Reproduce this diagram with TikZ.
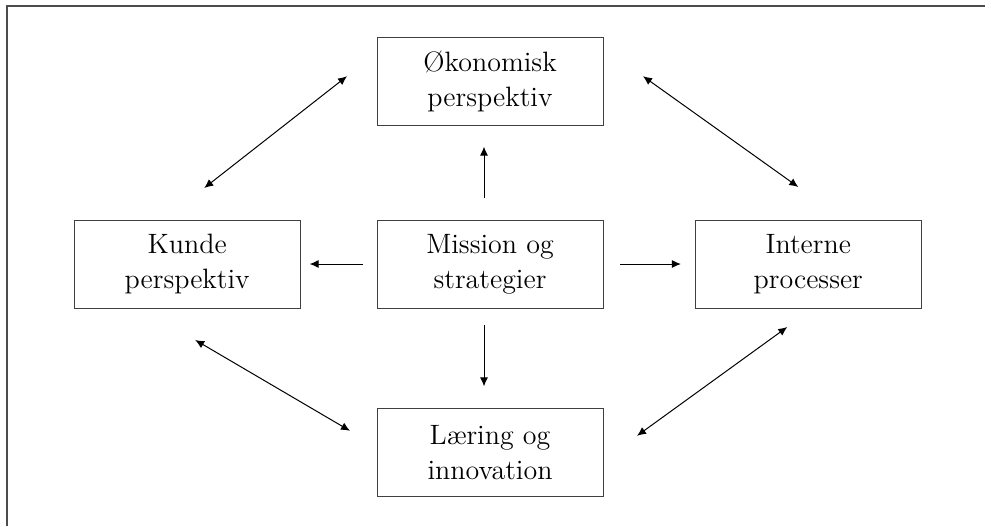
\documentclass[tikz,border=0pt]{standalone}
\usetikzlibrary{positioning, arrows.meta}

\begin{document}
\begin{tikzpicture}[x=0.5pt, y=-0.5pt, >={Latex[length=4.5pt,width=4pt]},
        box/.style = {draw=black!75, rectangle, minimum width=113pt, minimum height=44pt,
                      inner sep=0pt, align=center, font=\fontsize{14}{17.5}\selectfont},
        link/.style = {->, line width=0.5pt},
        both/.style = {<->, line width=0.5pt},
        ]
        \useasboundingbox (0,0) rectangle (985,526);
        \draw [line width=1pt, black!70] (7,526) -- (7,6) -- (985,6);

        \node [box] (mission) at (490,264) {Mission og\\strategier};
        \node [box, above=47pt of mission] (oekonomi) {Økonomisk\\perspektiv};
        \node [box, left=38pt of mission] (kunde) {Kunde\\perspektiv};
        \node [box, right=45.75pt of mission] (interne) {Interne\\processer};
        \node [box, below=50pt of mission] (laering) {Læring og\\innovation};

        % fra midten og ud
        \draw [link, shorten <=11pt, shorten >=10.5pt] ([xshift=-3pt]mission.north) -- ([xshift=-3pt]oekonomi.south);
        \draw [link, shorten <=8.5pt, shorten >=11pt] ([xshift=-3pt]mission.south) -- ([xshift=-3pt]laering.north);
        \draw [link, shorten <=7pt, shorten >=4.5pt] (mission.west) -- (kunde.east);
        \draw [link, shorten <=8.5pt, shorten >=7pt] (mission.east) -- (interne.west);

        % rundt om
        \draw [both] ([shift={(17,-76)}]kunde.center) -- ([shift={(-143,-5)}]oekonomi.center);
        \draw [both] ([shift={(153,-5)}]oekonomi.center) -- ([shift={(-10,-77)}]interne.center);
        \draw [both] ([shift={(8,76)}]kunde.center) -- ([shift={(-140,-22)}]laering.center);
        \draw [both] ([shift={(147,-17)}]laering.center) -- ([shift={(-21,63)}]interne.center);
    \end{tikzpicture}
\end{document}
